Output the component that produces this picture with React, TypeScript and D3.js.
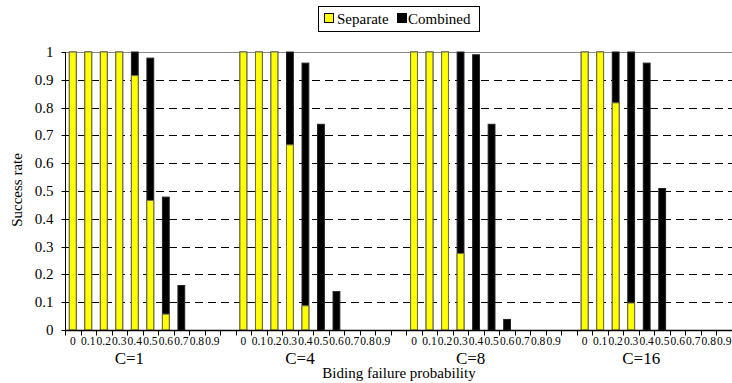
import React, { useEffect, useRef } from "react";
import * as d3 from "d3";

const groups = ["C=1", "C=4", "C=8", "C=16"];
const probs = ["0", "0.1", "0.2", "0.3", "0.4", "0.5", "0.6", "0.7", "0.8", "0.9"];

// success rate per group, one value per failure probability
const separateC1 = [1, 1, 1, 1, 0.915, 0.466, 0.057, 0, 0, 0];
const separateC4 = [1, 1, 1, 0.666, 0.087, 0, 0, 0, 0, 0];
const separateC8 = [1, 1, 1, 0.275, 0, 0, 0, 0, 0, 0];
const separateC16 = [1, 1, 0.817, 0.097, 0, 0, 0, 0, 0, 0];

const combinedC1 = [1, 1, 1, 1, 1, 0.978, 0.478, 0.16, 0, 0];
const combinedC4 = [1, 1, 1, 1, 0.96, 0.74, 0.138, 0, 0, 0];
const combinedC8 = [1, 1, 1, 1, 0.99, 0.74, 0.038, 0, 0, 0];
const combinedC16 = [1, 1, 1, 1, 0.96, 0.509, 0, 0, 0, 0];

const separate = [separateC1, separateC4, separateC8, separateC16];
const combined = [combinedC1, combinedC4, combinedC8, combinedC16];

const yTicks = [0, 0.1, 0.2, 0.3, 0.4, 0.5, 0.6, 0.7, 0.8, 0.9, 1];

const FONT = "'Liberation Serif', 'Times New Roman', Times, 'DejaVu Serif', serif";

function App() {
  const ref = useRef(null);

  function drawChart() {
    const width = 732;
    const height = 383;
    const margin = { top: 52, right: 0, bottom: 52, left: 65 };

    // category slots: 10 per group, one empty slot between groups
    const keys: string[] = [];
    groups.forEach((g, gi) => {
      probs.forEach((p) => keys.push(g + "|" + p));
      if (gi < groups.length - 1) keys.push("gap" + gi);
    });

    const svg = d3
      .select(ref.current)
      .append("svg")
      .attr("width", width)
      .attr("height", height)
      .style("position", "absolute")
      .style("left", 0)
      .style("top", 0);

    const x = d3
      .scaleBand()
      .domain(keys)
      .range([margin.left, width - margin.right])
      .padding(0);

    const y = d3
      .scaleLinear()
      .domain([0, 1])
      .range([height - margin.bottom - 1, margin.top]);

    const bw = x.bandwidth();
    const barW = bw * 0.44;

    // grid lines
    svg
      .append("g")
      .selectAll("line")
      .data(yTicks.filter((d) => d > 0))
      .join("line")
      .attr("x1", margin.left)
      .attr("x2", width - margin.right)
      .attr("y1", (d) => Math.round(y(d)) + 0.5)
      .attr("y2", (d) => Math.round(y(d)) + 0.5)
      .attr("stroke", (d) => (d === 1 ? "#888" : "#000"))
      .attr("stroke-dasharray", (d) => (d === 1 ? null : "8,5"))
      .attr("stroke-width", 1);

    const rows: { key: string; sep: number; comb: number }[] = [];
    groups.forEach((g, gi) => {
      probs.forEach((p, pi) => {
        rows.push({ key: g + "|" + p, sep: separate[gi][pi], comb: combined[gi][pi] });
      });
    });

    const barX = (d) => x(d.key) + (bw - barW) / 2;

    // combined drawn behind
    svg
      .append("g")
      .selectAll("rect")
      .data(rows.filter((d) => d.comb > 0))
      .join("rect")
      .attr("x", barX)
      .attr("width", barW)
      .attr("y", (d) => y(d.comb))
      .attr("height", (d) => y(0) - y(d.comb))
      .attr("fill", "#000")
      .attr("stroke", "#222")
      .attr("stroke-width", 1);

    svg
      .append("g")
      .selectAll("rect")
      .data(rows.filter((d) => d.sep > 0))
      .join("rect")
      .attr("x", barX)
      .attr("width", barW)
      .attr("y", (d) => y(d.sep))
      .attr("height", (d) => y(0) - y(d.sep))
      .attr("fill", "#ffff00")
      .attr("stroke", "#6e6e50")
      .attr("stroke-width", 1);

    // y axis
    const yAxisG = svg.append("g").attr("transform", `translate(${margin.left + 0.5}, 0)`);
    yAxisG
      .append("line")
      .attr("y1", y(1))
      .attr("y2", y(0))
      .attr("stroke", "#000");
    yAxisG
      .selectAll("line.tick")
      .data(yTicks)
      .join("line")
      .attr("class", "tick")
      .attr("x1", -4)
      .attr("x2", 0)
      .attr("y1", (d) => Math.round(y(d)) + 0.5)
      .attr("y2", (d) => Math.round(y(d)) + 0.5)
      .attr("stroke", "#000");
    yAxisG
      .selectAll("text")
      .data(yTicks)
      .join("text")
      .attr("x", -12)
      .attr("y", (d) => y(d) + 5)
      .attr("text-anchor", "end")
      .attr("font-size", 15)
      .text((d) => d3.format("")(d));

    // x axis
    const xAxisG = svg.append("g").attr("transform", `translate(0, ${Math.round(y(0)) + 0.5})`);
    xAxisG
      .append("line")
      .attr("x1", margin.left)
      .attr("x2", width - margin.right)
      .attr("stroke", "#000")
      .attr("stroke-width", 1.5);
    xAxisG
      .selectAll("line.tick")
      .data(keys.map((k) => x(k)).concat([width - margin.right - 0.5]))
      .join("line")
      .attr("class", "tick")
      .attr("x1", (d) => Math.round(d) + 0.5)
      .attr("x2", (d) => Math.round(d) + 0.5)
      .attr("y1", 0)
      .attr("y2", 5)
      .attr("stroke", "#000");
    xAxisG
      .selectAll("text.cat")
      .data(rows)
      .join("text")
      .attr("class", "cat")
      .attr("x", (d) => x(d.key) + bw / 2)
      .attr("y", 14)
      .attr("text-anchor", "middle")
      .attr("font-size", 11.5)
      .text((d) => d.key.split("|")[1]);
    xAxisG
      .selectAll("text.grp")
      .data(groups)
      .join("text")
      .attr("class", "grp")
      .attr("x", (g) => x(g + "|0") + bw * 4.15)
      .attr("y", 33)
      .attr("text-anchor", "middle")
      .attr("font-size", 17)
      .text((g) => g);

    svg
      .append("text")
      .attr("x", 399)
      .attr("y", 378)
      .attr("text-anchor", "middle")
      .attr("font-size", 15)
      .text("Biding failure probability");

    svg
      .append("text")
      .attr("transform", `translate(22, 190) rotate(-90)`)
      .attr("text-anchor", "middle")
      .attr("font-size", 15)
      .text("Success rate");

    // legend
    const legend = svg.append("g");
    legend
      .append("rect")
      .attr("x", 318.5)
      .attr("y", 6.5)
      .attr("width", 161)
      .attr("height", 25)
      .attr("fill", "#fff")
      .attr("stroke", "#000");
    const items = [
      { label: "Separate", color: "#ffff00", sx: 324, tx: 337 },
      { label: "Combined", color: "#000", sx: 397, tx: 408 },
    ];
    legend
      .selectAll("rect.sw")
      .data(items)
      .join("rect")
      .attr("class", "sw")
      .attr("x", (d) => d.sx + 0.5)
      .attr("y", 13.5)
      .attr("width", 9)
      .attr("height", 9)
      .attr("fill", (d) => d.color)
      .attr("stroke", "#000");
    legend
      .selectAll("text")
      .data(items)
      .join("text")
      .attr("x", (d) => d.tx)
      .attr("y", 24)
      .attr("font-size", 15)
      .text((d) => d.label);

    svg.selectAll("text").style("font-family", FONT);
  }

  useEffect(() => {
    drawChart();
    return () => {
      d3.select(ref.current).selectAll("*").remove();
    };
  }, []);

  return <div ref={ref}></div>;
}

export default App;
